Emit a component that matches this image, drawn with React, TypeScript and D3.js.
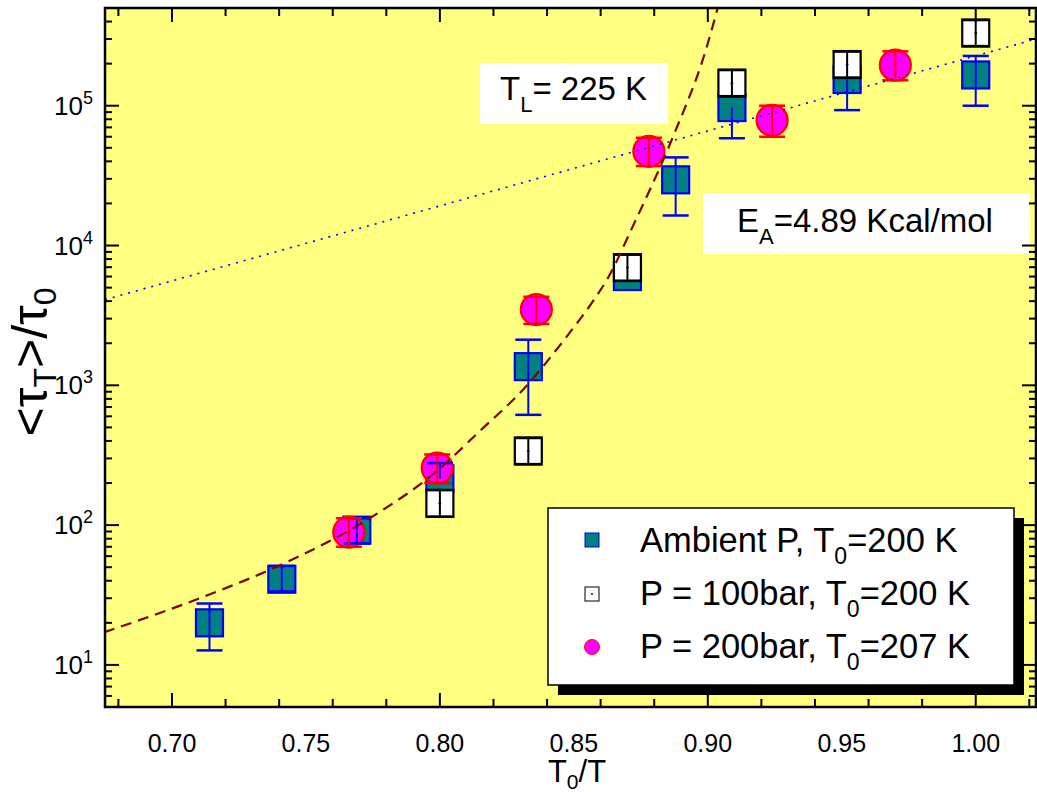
import React from 'react';
import * as d3 from 'd3';

// ---------- data ----------
const ambientX = [0.714, 0.741, 0.769, 0.8, 0.833, 0.87, 0.888, 0.909, 0.952, 1.0];
const ambientY = [20, 41, 92, 215, 1360, 6000, 29500, 97000, 154000, 166000];
const ambientHi: (number | null)[] = [27.5, 51, 112, 278, 2120, null, 42700, null, null, 227000];
const ambientLo: (number | null)[] = [12.7, 33.6, 74, null, 615, null, 16400, 58500, 93000, 100000];

const p100X = [0.8, 0.833, 0.87, 0.909, 0.952, 1.0];
const p100Y = [143, 339, 6950, 145000, 197000, 331000];
const p100Hi = [178, 420, 8600, 180000, 244000, 410000];
const p100Lo = [115, 273, 5600, 117000, 159000, 267000];

const p200X = [0.766, 0.799, 0.836, 0.878, 0.924, 0.97];
const p200Y = [89, 256, 3480, 47200, 78700, 195000];
const p200Hi = [112, 320, 4300, 59000, 100000, 245000];
const p200Lo = [70, 200, 2750, 37000, 60000, 152000];

// fitted curves
const vftX = [0.6746, 0.7149, 0.74, 0.7772, 0.7985, 0.8146, 0.8306, 0.847, 0.8567, 0.8631, 0.8716, 0.8866, 0.8996, 0.9037];
const vftY = [17.1, 32.4, 51.3, 123, 240, 465, 912, 2190, 3890, 6030, 13200, 57500, 263000, 501000];
const arrX = [0.675, 1.0225];
const arrY = [4100, 300000];

const xTickLabels = ['0.70', '0.75', '0.80', '0.85', '0.90', '0.95', '1.00'];
const yTickExps = [1, 2, 3, 4, 5];

const legendLabels = [
  { pre: 'Ambient P, T', sub: '0', post: '=200 K' },
  { pre: 'P = 100bar, T', sub: '0', post: '=200 K' },
  { pre: 'P = 200bar, T', sub: '0', post: '=207 K' },
];

// ---------- layout ----------
const W = 1037, H = 792;
const PL = 105, PR = 1036, PT = 8, PB = 707;
const FONT = 'Liberation Sans, Arial, Helvetica, sans-serif';
const NARROW = 'Liberation Sans Narrow, Arial Narrow, Liberation Sans, Arial, sans-serif';

const x = d3.scaleLinear().domain([0.675, 1.0225]).range([PL, PR]);
const y = d3.scaleLog().domain([5, 500000]).range([PB, PT]);

const TEAL = '#008080';
const YELLOW = '#FFFF80';

function ErrBar({ cx, v, hi, lo, color, cap }: any) {
  const cy = y(v);
  const els: any[] = [];
  if (hi != null) {
    const yh = y(hi);
    els.push(<line key="hv" x1={cx} x2={cx} y1={cy} y2={yh} stroke={color} strokeWidth={2} />);
    els.push(<line key="hc" x1={cx - cap / 2} x2={cx + cap / 2} y1={yh} y2={yh} stroke={color} strokeWidth={2.5} />);
  }
  if (lo != null) {
    const yl = y(lo);
    els.push(<line key="lv" x1={cx} x2={cx} y1={cy} y2={yl} stroke={color} strokeWidth={2} />);
    els.push(<line key="lc" x1={cx - cap / 2} x2={cx + cap / 2} y1={yl} y2={yl} stroke={color} strokeWidth={2.5} />);
  }
  return <g>{els}</g>;
}

export default function App() {
  const xt = x.ticks(14);
  const yt = y.ticks();
  const isMajorX = (t: number) => Math.abs(Math.round(t * 20) - t * 20) < 1e-6;
  const isMajorY = (t: number) => Math.abs(Math.log10(t) - Math.round(Math.log10(t))) < 1e-6;

  const vftPath = d3.line<number>().x((d, i) => x(vftX[i])).y((d, i) => y(vftY[i])).curve(d3.curveMonotoneX)(vftX)!;
  const arrPath = d3.line<number>().x((d, i) => x(arrX[i])).y((d, i) => y(arrY[i]))(arrX)!;

  const S = 27; // square marker size
  const R = 15.5;

  return (
    <svg width={W} height={H} style={{ position: 'fixed', left: 0, top: 0, background: '#fff' }} fontFamily={FONT}>
      <defs>
        <clipPath id="pc"><rect x={PL} y={PT} width={PR - PL} height={PB - PT} /></clipPath>
      </defs>
      <rect x={PL} y={PT} width={PR - PL} height={PB - PT} fill={YELLOW} />

      {/* text boxes */}
      <rect x={480} y={63} width={188} height={61} fill="#fff" />
      <text x={500} y={100} fontSize={33} fill="#000">T<tspan fontSize={22} dy={12}>L</tspan><tspan dy={-12}>= 225 K</tspan></text>
      <rect x={703} y={193} width={327} height={61} fill="#fff" />
      <text x={737} y={232} fontSize={33} fill="#000">E<tspan fontSize={22} dy={12}>A</tspan><tspan dy={-12}>=4.89 Kcal/mol</tspan></text>

      {/* markers */}
      <g>
        {ambientX.map((xv, i) => (
          <rect key={'a' + i} x={x(xv) - S / 2} y={y(ambientY[i]) - S / 2} width={S} height={S} fill={TEAL} stroke="#0000FF" strokeWidth={2.2} />
        ))}
        {p100X.map((xv, i) => (
          <g key={'w' + i}>
            <rect x={x(xv) - S / 2} y={y(p100Y[i]) - S / 2} width={S} height={S} fill="#fff" stroke="#000" strokeWidth={2.2} />
            <circle cx={x(xv)} cy={y(p100Y[i])} r={1.3} fill="#000" />
          </g>
        ))}
        {p200X.map((xv, i) => (
          <circle key={'c' + i} cx={x(xv)} cy={y(p200Y[i])} r={R} fill="#FF00FF" stroke="#FF0000" strokeWidth={2.2} />
        ))}
      </g>

      {/* error bars */}
      <g>
        {ambientX.map((xv, i) => (
          <ErrBar key={'ea' + i} cx={x(xv)} v={ambientY[i]} hi={ambientHi[i]} lo={ambientLo[i]} color="#0000FF" cap={26} />
        ))}
        {p100X.map((xv, i) => (
          <ErrBar key={'ew' + i} cx={x(xv)} v={p100Y[i]} hi={p100Hi[i]} lo={p100Lo[i]} color="#000" cap={27} />
        ))}
        {p200X.map((xv, i) => (
          <ErrBar key={'ec' + i} cx={x(xv)} v={p200Y[i]} hi={p200Hi[i]} lo={p200Lo[i]} color="#FF0000" cap={26} />
        ))}
      </g>

      {/* fit curves */}
      <g clipPath="url(#pc)">
        <path d={vftPath} fill="none" stroke="#800000" strokeWidth={2.2} strokeDasharray="11,7" />
        <path d={arrPath} fill="none" stroke="#0000FF" strokeWidth={1.6} strokeDasharray="2,6" />
      </g>

      {/* legend */}
      <rect x={558} y={518} width={466} height={177} fill="#000" />
      <rect x={548} y={508} width={466} height={177} fill="#fff" stroke="#000" strokeWidth={1.5} />
      <rect x={585} y={533} width={14} height={14} fill={TEAL} stroke="#0000FF" strokeWidth={1} />
      <rect x={585} y={587} width={14} height={14} fill="#fff" stroke="#000" strokeWidth={1} />
      <circle cx={592} cy={594} r={0.9} fill="#000" />
      <circle cx={592} cy={647} r={7.5} fill="#FF00FF" stroke="#FF0000" strokeWidth={1} />
      {legendLabels.map((l, i) => (
        <text key={'l' + i} x={640} y={552 + i * 53} fontSize={34.5} fill="#000">
          {l.pre}<tspan fontSize={23} dy={12}>{l.sub}</tspan><tspan dy={-12}>{l.post}</tspan>
        </text>
      ))}

      {/* frame & ticks */}
      <g stroke="#000" strokeWidth={2}>
        {xt.map((t, i) => {
          const len = isMajorX(t) ? 14 : 8;
          const px = x(t);
          return (
            <g key={'xt' + i}>
              <line x1={px} x2={px} y1={PB} y2={PB - len} />
              <line x1={px} x2={px} y1={PT} y2={PT + len} />
            </g>
          );
        })}
        {yt.map((t, i) => {
          const len = isMajorY(t) ? 14 : 7;
          const py = y(t);
          return (
            <g key={'yt' + i}>
              <line x1={PL} x2={PL + len} y1={py} y2={py} />
              <line x1={PR} x2={PR - len} y1={py} y2={py} />
            </g>
          );
        })}
        <rect x={PL} y={PT} width={PR - PL} height={PB - PT} fill="none" strokeWidth={2.5} />
      </g>

      {/* tick labels */}
      {xTickLabels.map((s, i) => (
        <text key={'xl' + i} x={x(+s)} y={752} fontSize={25} textAnchor="middle" fontFamily={NARROW} fill="#000">{s}</text>
      ))}
      {yTickExps.map((e, i) => (
        <text key={'yl' + i} x={93} y={y(Math.pow(10, e)) + 9} fontSize={26} textAnchor="end" fill="#000">
          10<tspan fontSize={18} dy={-11}>{e}</tspan>
        </text>
      ))}

      {/* axis titles */}
      <text x={577} y={782} fontSize={31} textAnchor="middle" fontFamily={NARROW} fill="#000">
        T<tspan fontSize={21} dy={7}>0</tspan><tspan dy={-7}>/T</tspan>
      </text>
      <text transform="translate(47,362) rotate(-90)" fontSize={50} textAnchor="middle" fill="#000">
        &lt;τ<tspan fontSize={32} dy={9}>T</tspan><tspan dy={-9}>&gt;/τ</tspan><tspan fontSize={32} dy={9}>0</tspan>
      </text>
    </svg>
  );
}
